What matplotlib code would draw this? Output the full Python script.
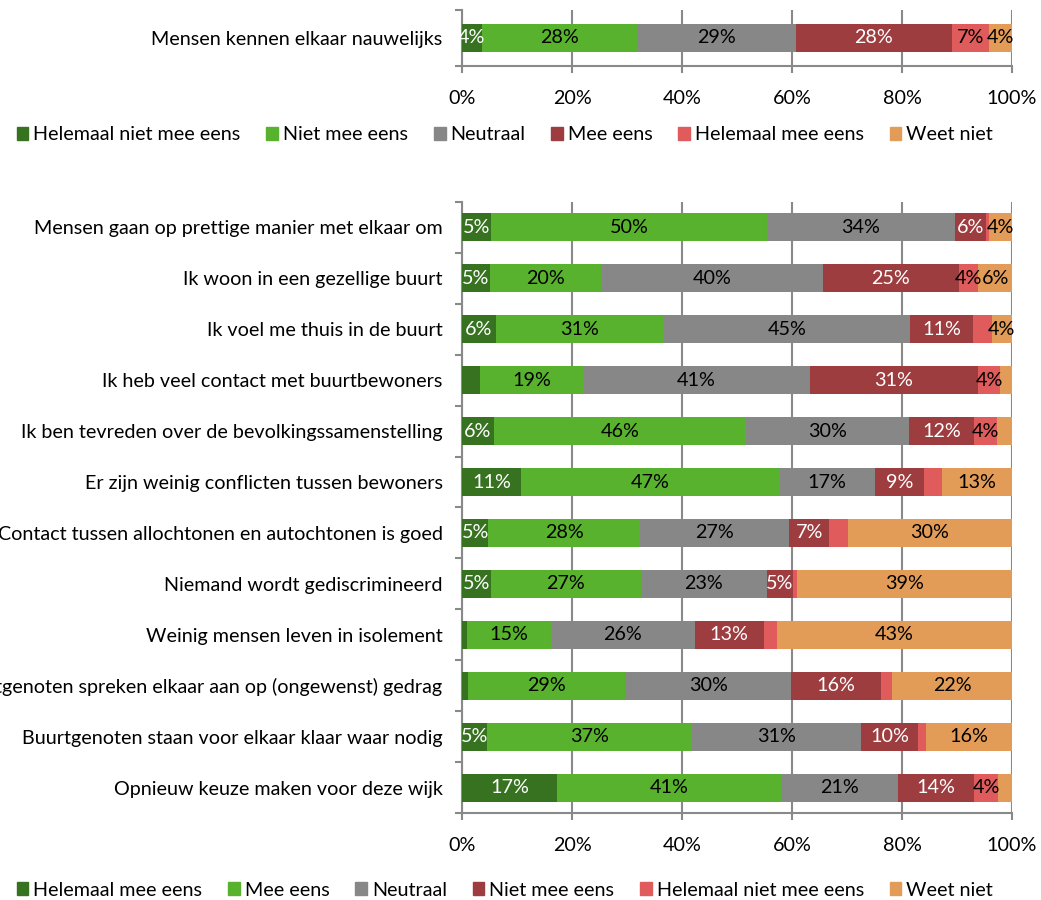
import numpy as np
import matplotlib.pyplot as plt
from matplotlib.patches import Patch
from matplotlib.ticker import FixedLocator, PercentFormatter

plt.rcParams['font.family'] = ['Lato', 'DejaVu Sans']
plt.rcParams['font.size'] = 14.2

colors = ['#36721f', '#58b22d', '#878787', '#9d3d40', '#e05b5b', '#e39c57']
text_colors = ['white', 'black', 'black', 'white', 'black', 'black']

# bovenste grafiek: een stelling
top_category = ['Mensen kennen elkaar nauwelijks']
top_labels = ['Helemaal niet mee eens', 'Niet mee eens', 'Neutraal',
              'Mee eens', 'Helemaal mee eens', 'Weet niet']
top_values = [3.6, 28.4, 28.7, 28.4, 6.8, 4.1]

# onderste grafiek: overige stellingen
categories = [
    'Mensen gaan op prettige manier met elkaar om',
    'Ik woon in een gezellige buurt',
    'Ik voel me thuis in de buurt',
    'Ik heb veel contact met buurtbewoners',
    'Ik ben tevreden over de bevolkingssamenstelling',
    'Er zijn weinig conflicten tussen bewoners',
    'Contact tussen allochtonen en autochtonen is goed',
    'Niemand wordt gediscrimineerd',
    'Weinig mensen leven in isolement',
    'Buurtgenoten spreken elkaar aan op (ongewenst) gedrag',
    'Buurtgenoten staan voor elkaar klaar waar nodig',
    'Opnieuw keuze maken voor deze wijk',
]
bottom_labels = ['Helemaal mee eens', 'Mee eens', 'Neutraal',
                 'Niet mee eens', 'Helemaal niet mee eens', 'Weet niet']
helemaal_mee_eens = [5.3, 5.1, 6.1, 3.3, 5.8, 10.7, 4.8, 5.2, 1.0, 1.1, 4.6, 17.3]
mee_eens = [50.1, 20.2, 30.6, 18.8, 45.8, 47.0, 27.6, 27.4, 15.1, 28.6, 37.3, 40.9]
neutraal = [34.2, 40.3, 44.8, 41.1, 29.6, 17.4, 27.1, 22.8, 26.2, 30.2, 30.7, 21.0]
niet_mee_eens = [5.6, 24.7, 11.4, 30.6, 11.9, 8.9, 7.3, 4.7, 12.6, 16.3, 10.3, 13.9]
helemaal_niet = [0.7, 3.6, 3.4, 4.1, 4.1, 3.3, 3.4, 0.9, 2.3, 2.0, 1.4, 4.4]
weet_niet = [4.1, 6.1, 3.7, 2.1, 2.8, 12.7, 29.8, 39.0, 42.8, 21.8, 15.7, 2.5]
bottom_series = [helemaal_mee_eens, mee_eens, neutraal,
                 niet_mee_eens, helemaal_niet, weet_niet]


def stacked_bars(ax, cats, series, height):
    y = np.arange(len(cats))
    left = np.zeros(len(cats))
    for i, vals in enumerate(series):
        vals = np.array(vals, dtype=float)
        ax.barh(y, vals, left=left, height=height, color=colors[i], zorder=3)
        for yi, (l, v) in enumerate(zip(left, vals)):
            if round(v) >= 4:
                ax.text(l + v / 2, yi, f'{v:.0f}%', ha='center', va='center',
                        color=text_colors[i], zorder=4)
        left += vals

    grid_col = '#898989'
    ax.set_xlim(0, 100)
    ax.set_ylim(len(cats) - 0.5, -0.5)
    ax.set_xticks(np.arange(0, 101, 20))
    ax.xaxis.set_major_formatter(PercentFormatter(decimals=0))
    ax.grid(axis='x', color=grid_col, linewidth=1.5, zorder=0)
    ax.set_yticks(y)
    ax.set_yticklabels(cats)
    ax.yaxis.set_minor_locator(FixedLocator(np.arange(len(cats) + 1) - 0.5))
    ax.tick_params(axis='y', which='major', length=0, pad=14)
    ax.tick_params(axis='y', which='minor', length=5, width=1.5, color=grid_col)
    ax.tick_params(axis='x', length=5, width=1.5, color=grid_col, pad=12)
    for s in ['top', 'right']:
        ax.spines[s].set_visible(False)
    for s in ['left', 'bottom']:
        ax.spines[s].set_color(grid_col)
        ax.spines[s].set_linewidth(1.5)


fig = plt.figure(figsize=(10.41, 9), dpi=100)

ax_top = fig.add_axes([0.4438, 0.9267, 0.5283, 0.0622])
stacked_bars(ax_top, top_category, [[v] for v in top_values], 0.5)

ax_bot = fig.add_axes([0.4438, 0.0967, 0.5283, 0.6789])
stacked_bars(ax_bot, categories, bottom_series, 0.55)

legend_kw = dict(ncol=6, frameon=False, handlelength=0.6, handleheight=0.6,
                 handletextpad=0.25, columnspacing=1.3)
fig.legend(handles=[Patch(color=c, label=l) for c, l in zip(colors, top_labels)],
           loc='center', bbox_to_anchor=(0.485, 1 - 135 / 900), **legend_kw)
fig.legend(handles=[Patch(color=c, label=l) for c, l in zip(colors, bottom_labels)],
           loc='center', bbox_to_anchor=(0.485, 1 - 890 / 900), **legend_kw)

fig.savefig('out.png', dpi=100)
